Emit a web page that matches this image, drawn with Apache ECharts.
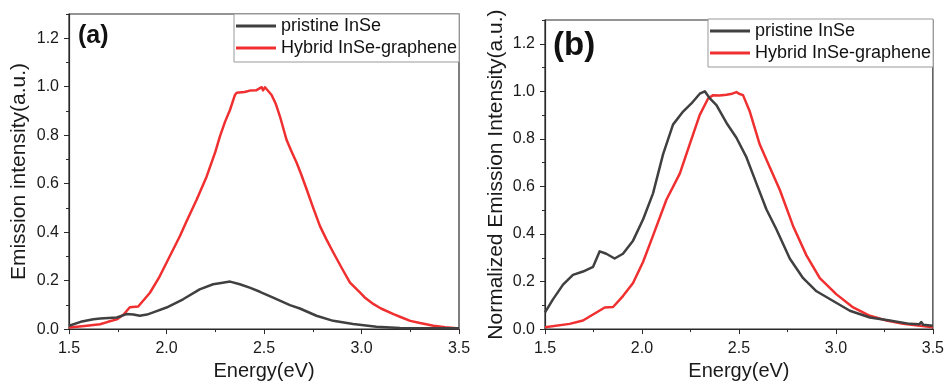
<!DOCTYPE html>
<html>
<head>
<meta charset="utf-8">
<script src="https://cdn.jsdelivr.net/npm/echarts@6/dist/echarts.min.js"></script>
<style>html,body{margin:0;padding:0;background:#fff}#c{width:947px;height:386px}</style>
</head>
<body>
<div id="c"></div>
<script>
// ---- data (energy in eV, intensity in a.u.) ----
const xTicks = [1.5, 2.0, 2.5, 3.0, 3.5];
const yTicks = [0.0, 0.2, 0.4, 0.6, 0.8, 1.0, 1.2];
const seriesNames = ['pristine InSe', 'Hybrid InSe-graphene'];

const aPristineE = [1.50,1.56,1.625,1.66,1.745,1.795,1.83,1.863,1.90,1.932,2.00,2.085,2.17,2.239,2.28,2.326,2.376,2.43,2.479,2.547,2.633,2.684,2.769,2.855,2.957,3.077,3.197,3.35,3.50];
const aPristineI = [0.014,0.030,0.041,0.044,0.048,0.062,0.060,0.055,0.060,0.069,0.089,0.123,0.164,0.185,0.190,0.196,0.185,0.170,0.154,0.130,0.099,0.085,0.055,0.034,0.021,0.010,0.005,0.004,0.003];

const aHybridE = [1.50,1.58,1.659,1.70,1.745,1.78,1.812,1.855,1.915,1.96,2.00,2.069,2.10,2.155,2.206,2.25,2.274,2.30,2.326,2.351,2.36,2.40,2.428,2.46,2.475,2.488,2.495,2.505,2.514,2.539,2.56,2.582,2.616,2.64,2.668,2.69,2.719,2.75,2.787,2.82,2.856,2.90,2.941,2.993,3.02,3.062,3.10,3.164,3.20,3.25,3.30,3.369,3.43,3.50];
const aHybridI = [0.007,0.013,0.020,0.030,0.040,0.060,0.090,0.093,0.150,0.210,0.274,0.384,0.440,0.535,0.630,0.730,0.795,0.855,0.905,0.966,0.975,0.978,0.984,0.985,0.992,0.998,0.985,0.998,0.990,0.966,0.930,0.877,0.780,0.735,0.685,0.640,0.576,0.505,0.425,0.370,0.315,0.250,0.192,0.150,0.128,0.103,0.085,0.062,0.050,0.034,0.025,0.014,0.008,0.003];

const bPristineE = [1.50,1.541,1.593,1.644,1.696,1.748,1.782,1.816,1.859,1.902,1.954,2.006,2.057,2.109,2.16,2.212,2.255,2.298,2.324,2.35,2.384,2.436,2.487,2.539,2.59,2.642,2.693,2.762,2.831,2.90,2.986,3.072,3.175,3.278,3.381,3.43,3.44,3.45,3.50];
const bPristineI = [0.070,0.125,0.187,0.228,0.242,0.262,0.327,0.317,0.297,0.317,0.372,0.462,0.571,0.736,0.860,0.915,0.949,0.990,1.000,0.970,0.942,0.867,0.805,0.722,0.613,0.503,0.420,0.297,0.214,0.159,0.118,0.077,0.049,0.036,0.022,0.020,0.030,0.018,0.014];

const bHybridE = [1.50,1.627,1.696,1.765,1.808,1.851,1.902,1.954,2.006,2.057,2.126,2.195,2.246,2.298,2.341,2.367,2.40,2.436,2.465,2.487,2.50,2.521,2.556,2.607,2.659,2.711,2.779,2.848,2.917,3.003,3.089,3.175,3.261,3.347,3.50];
const bHybridI = [0.008,0.022,0.036,0.070,0.091,0.093,0.139,0.194,0.283,0.393,0.544,0.654,0.777,0.901,0.970,0.984,0.982,0.986,0.990,0.997,0.990,0.984,0.915,0.777,0.681,0.585,0.434,0.310,0.214,0.146,0.091,0.056,0.036,0.022,0.008];

const pairs = (xs, ys) => xs.map((x, i) => [x, ys[i]]);

const FONT = 'Liberation Sans, Arial, sans-serif';
const BLACK = '#404040';
const RED = '#f03030';
const AX = '#2a2a2a';

const chart = echarts.init(document.getElementById('c'), null, {renderer: 'canvas'});

function xAxisFor(gi, gap) {
  return {
    type: 'value', gridIndex: gi, min: xTicks[0], max: xTicks[xTicks.length - 1], interval: 0.5,
    name: 'Energy(eV)', nameLocation: 'middle', nameGap: gap,
    nameTextStyle: {fontFamily: FONT, fontSize: 20, color: '#1a1a1a'},
    axisLine: {show: true, onZero: false, lineStyle: {color: AX, width: 1.2}},
    axisTick: {show: true, inside: false, length: 5, lineStyle: {color: AX, width: 1}},
    minorTick: {show: true, splitNumber: 2, length: 3, lineStyle: {color: AX, width: 1}},
    axisLabel: {fontFamily: FONT, fontSize: 16, color: '#1a1a1a', margin: 11,
      formatter: v => v.toFixed(1)},
    splitLine: {show: false}
  };
}
function yAxisFor(gi, name, gap) {
  return {
    type: 'value', gridIndex: gi, min: yTicks[0], max: 1.3, interval: 0.2,
    name: name, nameLocation: 'middle', nameGap: gap, nameRotate: 90,
    nameTextStyle: {fontFamily: FONT, fontSize: 21, color: '#1a1a1a'},
    axisLine: {show: true, onZero: false, lineStyle: {color: AX, width: 1.2}},
    axisTick: {show: true, inside: false, length: 5, lineStyle: {color: AX, width: 1}},
    axisLabel: {fontFamily: FONT, fontSize: 16, color: '#1a1a1a', margin: 10, showMaxLabel: false,
      formatter: v => (yTicks.some(t => Math.abs(t - v) < 1e-6) ? v.toFixed(1) : '')},
    splitLine: {show: false}
  };
}
function yMinorFor(gi) {
  return {
    type: 'value', gridIndex: gi, min: 0, max: 1.3, interval: 0.1, position: 'left',
    axisLine: {show: false},
    axisTick: {show: true, inside: false, length: 3, lineStyle: {color: AX, width: 1}},
    axisLabel: {show: false}, splitLine: {show: false}
  };
}
function legendFor(left, top) {
  return {
    left: left, top: top, orient: 'vertical', data: seriesNames,
    icon: 'rect', itemWidth: 40, itemHeight: 3, itemGap: 4,
    padding: [3, 2, 5, 2],
    borderColor: '#999', borderWidth: 1, backgroundColor: '#fff',
    textStyle: {fontFamily: FONT, fontSize: 18, color: '#111'},
    selectedMode: false
  };
}
function line(name, xi, yi, data, color) {
  return {
    type: 'line', name: name, xAxisIndex: xi, yAxisIndex: yi, data: data,
    symbol: 'none', smooth: false,
    lineStyle: {color: color, width: 2.5, join: 'round'}, itemStyle: {color: color},
    z: name === seriesNames[1] ? 3 : 4, animation: false
  };
}

chart.setOption({
  animation: false,
  grid: [
    {left: 69, top: 14, width: 390, height: 316.5, show: true, borderColor: AX, borderWidth: 1.2},
    {left: 545, top: 20, width: 388, height: 315.3, show: true, borderColor: AX, borderWidth: 1.2}
  ],
  xAxis: [xAxisFor(0, 30), xAxisFor(1, 29)],
  yAxis: [
    yAxisFor(0, 'Emission intensity(a.u.)', 39),
    yAxisFor(1, 'Normalized Emission Intensity(a.u.)', 38),
    yMinorFor(0), yMinorFor(1)
  ],
  legend: [legendFor(234, 14), legendFor(708, 19)],
  graphic: [
    {type: 'text', left: 78, top: 24, style: {text: '(a)', font: 'bold 25px ' + FONT, fill: '#111'}},
    {type: 'text', left: 553, top: 29, style: {text: '(b)', font: 'bold 33px ' + FONT, fill: '#111'}}
  ],
  series: [
    line(seriesNames[0], 0, 0, pairs(aPristineE, aPristineI), BLACK),
    line(seriesNames[1], 0, 0, pairs(aHybridE, aHybridI), RED),
    line(seriesNames[0], 1, 1, pairs(bPristineE, bPristineI), BLACK),
    line(seriesNames[1], 1, 1, pairs(bHybridE, bHybridI), RED)
  ]
});
</script>
</body>
</html>
